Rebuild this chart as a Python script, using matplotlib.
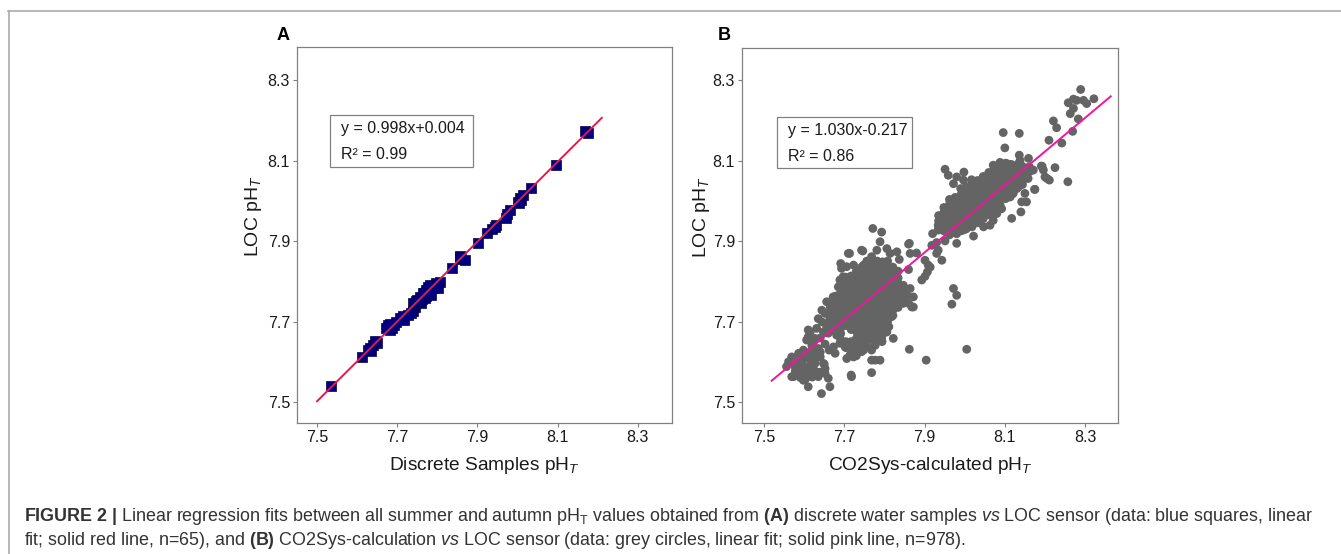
"""Figure 2 : regressions lineaires LOC pH_T vs echantillons discrets / CO2Sys."""

import numpy as np
import matplotlib
matplotlib.use("Agg")
import matplotlib.pyplot as plt
from matplotlib.patches import Rectangle
from matplotlib.lines import Line2D

W, H = 1341, 554

plt.rcParams["font.family"] = ["Liberation Sans", "DejaVu Sans"]
plt.rcParams["mathtext.fontset"] = "custom"
plt.rcParams["mathtext.rm"] = "Liberation Sans"
plt.rcParams["mathtext.it"] = "Liberation Sans:italic"
plt.rcParams["mathtext.bf"] = "Liberation Sans:bold"

TICKS = [7.5, 7.7, 7.9, 8.1, 8.3]
TICK_LABELS = ["7.5", "7.7", "7.9", "8.1", "8.3"]

# --- panel A : discrete samples (x) vs LOC (y), n=65
a_discrete = [7.536, 7.613, 7.631, 7.640, 7.650, 7.635, 7.677, 7.681, 7.688, 7.698,
              7.691, 7.714, 7.718, 7.739, 7.738, 7.743, 7.748, 7.760, 7.756, 7.764,
              7.768, 7.772, 7.777, 7.785, 7.789, 7.797, 7.801, 7.806, 7.781, 7.836,
              7.857, 7.860, 7.868, 7.901, 7.924, 7.937, 7.947, 7.943, 7.972, 7.980,
              8.001, 8.007, 8.013, 8.009, 8.034, 8.096, 8.167, 8.175, 7.746, 7.762,
              7.771, 7.733, 7.727, 7.708, 7.673, 7.683, 7.627, 7.644, 7.792, 7.799,
              7.767, 7.754, 7.856, 7.974, 8.004]
a_loc = [7.539, 7.612, 7.634, 7.642, 7.646, 7.626, 7.692, 7.678, 7.684, 7.700,
         7.692, 7.713, 7.703, 7.727, 7.746, 7.737, 7.754, 7.746, 7.762, 7.770,
         7.758, 7.779, 7.787, 7.766, 7.783, 7.795, 7.783, 7.799, 7.791, 7.833,
         7.863, 7.855, 7.852, 7.896, 7.921, 7.929, 7.940, 7.934, 7.958, 7.977,
         7.998, 8.006, 8.014, 8.002, 8.031, 8.089, 8.173, 8.169, 7.750, 7.756,
         7.764, 7.721, 7.717, 7.708, 7.684, 7.694, 7.630, 7.651, 7.789, 7.789,
         7.772, 7.751, 7.860, 7.967, 7.994]
a_fit_x = [7.500, 8.210]
a_fit_y = [7.502, 8.206]

# --- panel B : CO2Sys (x) vs LOC (y), n=978
b_tail = [
    (7.561, 7.601), (7.569, 7.613), (7.577, 7.589), (7.586, 7.572), (7.594, 7.597),
    (7.602, 7.584), (7.610, 7.568), (7.635, 7.564), (7.652, 7.572), (7.660, 7.560),
    (7.664, 7.539), (7.643, 7.522), (7.610, 7.539), (7.573, 7.564), (7.556, 7.589),
    (7.586, 7.622), (7.598, 7.630), (7.610, 7.613), (7.627, 7.597), (7.640, 7.613),
    (7.627, 7.622), (7.615, 7.626), (7.581, 7.597), (7.594, 7.576), (7.619, 7.589),
    (7.648, 7.597), (7.652, 7.584), (7.635, 7.634), (7.623, 7.651), (7.610, 7.663),
    (7.569, 7.564), (7.606, 7.572), (7.598, 7.555), (7.640, 7.660), (7.648, 7.675),
    (7.656, 7.688), (7.644, 7.700), (7.660, 7.672), (7.668, 7.690), (7.652, 7.645),
    (7.662, 7.630), (7.640, 7.625), (7.630, 7.612), (7.618, 7.600), (7.604, 7.610),
    (7.590, 7.612), (7.585, 7.600), (7.598, 7.588), (7.612, 7.590), (7.625, 7.580),
    (7.638, 7.575), (7.650, 7.595), (7.578, 7.578), (7.590, 7.562), (7.603, 7.558),
    (7.620, 7.563), (7.610, 7.680), (7.644, 7.729), (7.656, 7.750),
]
b_lower_edge = [
    (7.771, 7.932), (7.793, 7.923), (7.789, 7.899), (7.746, 7.876), (7.713, 7.870),
    (7.691, 7.845), (7.693, 7.833), (7.706, 7.837), (7.697, 7.812), (7.723, 7.841),
    (7.748, 7.841), (7.768, 7.862), (7.781, 7.878), (7.806, 7.882), (7.814, 7.870),
    (7.831, 7.874), (7.837, 7.855), (7.860, 7.893), (7.864, 7.870), (7.880, 7.871),
    (7.860, 7.830), (7.864, 7.783), (7.856, 7.766), (7.860, 7.746), (7.872, 7.737),
    (7.847, 7.746), (7.839, 7.787), (7.834, 7.770), (7.826, 7.754), (7.814, 7.717),
    (7.806, 7.675), (7.822, 7.659), (7.793, 7.659), (7.781, 7.655), (7.768, 7.630),
    (7.768, 7.605), (7.789, 7.605), (7.768, 7.574), (7.748, 7.630), (7.729, 7.622),
    (7.718, 7.564), (7.723, 7.613), (7.706, 7.609), (7.702, 7.638), (7.689, 7.647),
    (7.681, 7.667), (7.679, 7.684), (7.663, 7.704), (7.681, 7.721), (7.664, 7.746),
    (7.672, 7.762), (7.685, 7.787), (7.689, 7.804), (7.702, 7.796), (7.797, 7.704),
    (7.797, 7.671), (7.756, 7.663), (7.777, 7.642), (7.742, 7.636), (7.710, 7.870),
    (7.743, 7.878), (7.868, 7.737), (7.872, 7.762), (7.847, 7.783), (7.818, 7.713),
    (7.811, 7.688), (7.794, 7.676), (7.794, 7.651), (7.777, 7.605), (7.717, 7.568),
    (7.677, 7.622), (7.673, 7.638), (7.714, 7.617), (7.731, 7.626), (7.635, 7.708),
    (7.652, 7.721), (7.631, 7.684), (7.615, 7.675), (7.606, 7.655), (7.619, 7.642),
    (7.627, 7.659),
]
# coeur dense : x -> valeurs de y lues par colonne
b_lower_core = {
    7.665: [7.690, 7.706, 7.719, 7.736],
    7.678: [7.676, 7.690, 7.704, 7.721, 7.734, 7.751, 7.764],
    7.691: [7.656, 7.671, 7.684, 7.701, 7.714, 7.731, 7.744, 7.761, 7.774, 7.790],
    7.704: [7.636, 7.651, 7.691, 7.704, 7.721, 7.734, 7.751, 7.764, 7.781, 7.794, 7.811],
    7.717: [7.621, 7.634, 7.651, 7.681, 7.694, 7.711, 7.724, 7.741, 7.754, 7.771, 7.784,
            7.801, 7.814],
    7.730: [7.616, 7.629, 7.646, 7.659, 7.676, 7.689, 7.706, 7.719, 7.736, 7.749, 7.766,
            7.779, 7.796, 7.809, 7.826],
    7.743: [7.626, 7.639, 7.656, 7.669, 7.686, 7.699, 7.716, 7.729, 7.746, 7.759, 7.776,
            7.789, 7.806, 7.819, 7.836],
    7.756: [7.641, 7.654, 7.671, 7.684, 7.701, 7.714, 7.731, 7.744, 7.761, 7.774, 7.791,
            7.804, 7.821, 7.834, 7.851],
    7.769: [7.656, 7.669, 7.686, 7.699, 7.716, 7.729, 7.746, 7.759, 7.776, 7.789, 7.806,
            7.819, 7.836, 7.849],
    7.782: [7.671, 7.684, 7.701, 7.714, 7.731, 7.744, 7.761, 7.774, 7.791, 7.804, 7.821,
            7.834, 7.851],
    7.795: [7.686, 7.699, 7.716, 7.729, 7.746, 7.759, 7.776, 7.789, 7.806, 7.819, 7.836,
            7.849],
    7.808: [7.701, 7.714, 7.731, 7.744, 7.761, 7.774, 7.791, 7.804, 7.821, 7.834, 7.851],
    7.821: [7.716, 7.729, 7.746, 7.759, 7.776, 7.789, 7.806, 7.819, 7.836],
    7.834: [7.736, 7.749, 7.766, 7.779, 7.796, 7.809, 7.826],
    7.847: [7.761, 7.774, 7.791],
}
b_bridge = [
    (7.862, 7.895), (7.901, 7.853), (7.909, 7.841), (7.901, 7.813), (7.907, 7.824),
    (7.914, 7.836), (7.930, 7.870), (7.934, 7.878), (7.943, 7.853), (7.930, 7.897),
    (7.920, 7.919), (7.951, 7.901), (7.934, 7.928), (7.934, 7.940), (7.947, 7.952),
    (7.959, 7.965), (7.951, 7.973), (7.980, 7.895), (7.980, 7.919), (7.972, 7.783),
    (7.980, 7.766), (7.968, 7.744), (8.005, 7.632), (7.904, 7.605), (7.862, 7.632),
    (7.893, 7.804), (7.918, 7.890),
]
b_upper_edge = [
    (7.951, 8.079), (7.959, 8.064), (7.980, 8.060), (7.998, 8.072), (7.997, 8.052),
    (8.017, 8.053), (8.026, 8.039), (7.972, 8.043), (7.963, 7.992), (7.955, 7.979),
    (7.990, 8.014), (7.980, 7.994), (7.955, 7.945), (7.972, 7.932), (7.997, 7.928),
    (8.022, 7.913), (8.013, 7.940), (8.030, 7.961), (8.047, 7.936), (8.063, 7.940),
    (8.071, 7.952), (8.080, 7.969), (8.092, 7.981), (8.113, 8.010), (8.121, 8.019),
    (8.134, 8.035), (8.150, 8.056), (8.154, 8.068), (8.146, 8.081), (8.134, 8.093),
    (8.134, 8.072), (8.113, 8.085), (8.105, 8.093), (8.092, 8.081), (8.079, 8.072),
    (8.055, 8.047), (8.047, 8.035), (8.038, 8.023), (8.030, 8.031), (8.022, 8.010),
    (8.005, 7.998), (8.030, 7.986), (8.055, 7.986), (8.063, 8.002), (8.088, 8.019),
    (8.100, 8.035), (8.113, 8.052), (8.125, 8.060), (8.096, 8.052), (8.080, 8.035),
    (8.067, 8.027), (8.047, 8.010), (8.038, 7.981), (8.017, 7.961), (8.001, 7.952),
    (7.988, 7.969), (7.972, 7.969), (8.005, 7.977), (7.993, 7.952), (7.980, 7.944),
    (7.963, 7.952), (8.150, 8.019), (8.154, 7.998), (8.117, 8.035), (8.105, 8.068),
    (8.161, 8.085), (8.159, 8.106), (8.163, 8.074),
]
b_upper_core = {
    7.935: [7.936, 7.951, 7.964],
    7.948: [7.926, 7.941, 7.954, 7.971, 7.984],
    7.962: [7.916, 7.931, 7.944, 7.961, 7.974, 7.991, 8.004],
    7.976: [7.921, 7.936, 7.949, 7.966, 7.979, 7.996, 8.009],
    7.990: [7.926, 7.941, 7.954, 7.971, 7.984, 8.001, 8.014, 8.031],
    8.004: [7.931, 7.946, 7.959, 7.976, 7.989, 8.006, 8.019, 8.036],
    8.018: [7.936, 7.951, 7.964, 7.981, 7.994, 8.011, 8.024, 8.041],
    8.032: [7.946, 7.961, 7.974, 7.991, 8.004, 8.021, 8.034, 8.051],
    8.046: [7.956, 7.971, 7.984, 8.001, 8.014, 8.031, 8.044, 8.061],
    8.060: [7.966, 7.981, 7.994, 8.011, 8.024, 8.041, 8.054, 8.071],
    8.074: [7.976, 7.991, 8.004, 8.021, 8.034, 8.051, 8.064, 8.081],
    8.088: [7.991, 8.006, 8.019, 8.036, 8.049, 8.066, 8.079, 8.096],
    8.102: [8.006, 8.021, 8.034, 8.051, 8.064, 8.081, 8.094],
    8.116: [8.016, 8.031, 8.044, 8.061, 8.074, 8.091],
    8.130: [8.031, 8.046, 8.059, 8.076, 8.089],
    8.144: [8.041, 8.056, 8.069, 8.086],
    8.158: [8.056, 8.071],
}
b_top = [
    (8.289, 8.277), (8.258, 8.244), (8.279, 8.250), (8.271, 8.253), (8.296, 8.250),
    (8.322, 8.254), (8.304, 8.242), (8.271, 8.230), (8.263, 8.217), (8.283, 8.204),
    (8.221, 8.199), (8.229, 8.182), (8.269, 8.173), (8.242, 8.144), (8.210, 8.151),
    (8.096, 8.170), (8.136, 8.168), (8.100, 8.132), (8.257, 8.048), (8.225, 8.083),
    (8.191, 8.087), (8.196, 8.077), (8.200, 8.060), (8.211, 8.052), (8.171, 8.077),
    (8.175, 8.029), (8.136, 8.114), (8.138, 8.101), (8.142, 7.998), (8.140, 7.973),
    (8.117, 7.957), (8.071, 8.089), (8.193, 8.086), (8.205, 8.056), (8.174, 8.029),
]
b_fit_x = [7.519, 8.364]
b_fit_y = [7.554, 8.260]


def points_b():
    pts = list(b_tail) + list(b_lower_edge) + list(b_bridge) + list(b_upper_edge) + list(b_top)
    for core in (b_lower_core, b_upper_core):
        for x, ys in core.items():
            pts += [(x, y) for y in ys]
    pts = np.array(pts)
    return pts[:, 0], pts[:, 1]


def fig_box(px_left, px_top, px_right, px_bottom):
    return (px_left / W, 1 - px_bottom / H, (px_right - px_left) / W, (px_bottom - px_top) / H)


def style_axes(ax, xlim, ylim):
    ax.set_xlim(*xlim)
    ax.set_ylim(*ylim)
    ax.set_xticks(TICKS)
    ax.set_xticklabels(TICK_LABELS)
    ax.set_yticks(TICKS)
    ax.set_yticklabels(TICK_LABELS)
    for s in ax.spines.values():
        s.set_color("#808080")
        s.set_linewidth(0.9)
    ax.tick_params(direction="out", length=3, width=0.8, color="#808080",
                   labelsize=11.5, labelcolor="#1a1a1a", pad=2)


fig = plt.figure(figsize=(W / 100, H / 100), dpi=100)

# cadre gris autour de la figure
fig.add_artist(Line2D([8 / W, 1], [1 - 10.5 / H] * 2, transform=fig.transFigure, color="#aaaaaa", lw=1.2))
fig.add_artist(Line2D([8.5 / W] * 2, [0, 1 - 10.5 / H], transform=fig.transFigure, color="#aaaaaa", lw=1.2))

# panneau A
ax1 = fig.add_axes(fig_box(297, 47, 672, 423))
ax1.scatter(a_discrete, a_loc, marker="s", s=52, color="#000080", edgecolors="#00004a", linewidths=0.5, zorder=2)
ax1.plot(a_fit_x, a_fit_y, color="#e3194c", lw=1.4, zorder=3)
style_axes(ax1, (7.450, 8.385), (7.448, 8.382))
ax1.set_xlabel(r"Discrete Samples pH$_{\mathit{T}}$", fontsize=13.8, color="#1a1a1a")
ax1.set_ylabel(r"LOC pH$_{\mathit{T}}$", fontsize=14, color="#1a1a1a")
ax1.xaxis.set_label_coords(0.5, -0.085)
ax1.yaxis.set_label_coords(-0.088, 0.55)

# panneau B
bx, by = points_b()
ax2 = fig.add_axes(fig_box(742, 48, 1118, 423))
ax2.scatter(bx, by, marker="o", s=40, color="#646464", edgecolors="none", zorder=2)
ax2.plot(b_fit_x, b_fit_y, color="#f0169a", lw=1.4, zorder=3)
style_axes(ax2, (7.445, 8.382), (7.449, 8.380))
ax2.set_xlabel(r"CO2Sys-calculated pH$_{\mathit{T}}$", fontsize=13.8, color="#1a1a1a")
ax2.set_ylabel(r"LOC pH$_{\mathit{T}}$", fontsize=14, color="#1a1a1a")
ax2.xaxis.set_label_coords(0.5, -0.085)
ax2.yaxis.set_label_coords(-0.080, 0.55)

# lettres des panneaux
fig.text(283 / W, 1 - 35 / H, "A", fontsize=13, fontweight="bold", ha="center", va="center")
fig.text(724 / W, 1 - 35 / H, "B", fontsize=13, fontweight="bold", ha="center", va="center")

# encadres des equations
for (l, t, r, b), eq, r2 in [((330, 115, 473, 167), "y = 0.998x+0.004", "R² = 0.99"),
                              ((777, 117, 912, 168), "y = 1.030x-0.217", "R² = 0.86")]:
    fig.add_artist(Rectangle(fig_box(l, t, r, b)[:2], (r - l) / W, (b - t) / H,
                             transform=fig.transFigure, fill=False, edgecolor="#808080", lw=0.9))
    fig.text((l + 11) / W, 1 - (t + 13.5) / H, eq, fontsize=11.5, va="center", color="#1a1a1a")
    fig.text((l + 11) / W, 1 - (t + 39.5) / H, r2, fontsize=11.5, va="center", color="#1a1a1a")

# legende de la figure
ligne1 = (r"$\mathbf{FIGURE\ 2\ |}$ Linear regression fits between all summer and autumn pH$_\mathrm{T}$ "
          r"values obtained from $\mathbf{(A)}$ discrete water samples $\mathit{vs}$ LOC sensor "
          r"(data: blue squares, linear")
ligne2 = (r"fit; solid red line, n=65), and $\mathbf{(B)}$ CO2Sys-calculation $\mathit{vs}$ LOC sensor "
          r"(data: grey circles, linear fit; solid pink line, n=978).")
fig.text(24 / W, 1 - 521 / H, ligne1, fontsize=12.9, color="#333333", va="baseline")
fig.text(24 / W, 1 - 545 / H, ligne2, fontsize=12.9, color="#333333", va="baseline")

fig.savefig("out.png", dpi=100)
plt.close(fig)
